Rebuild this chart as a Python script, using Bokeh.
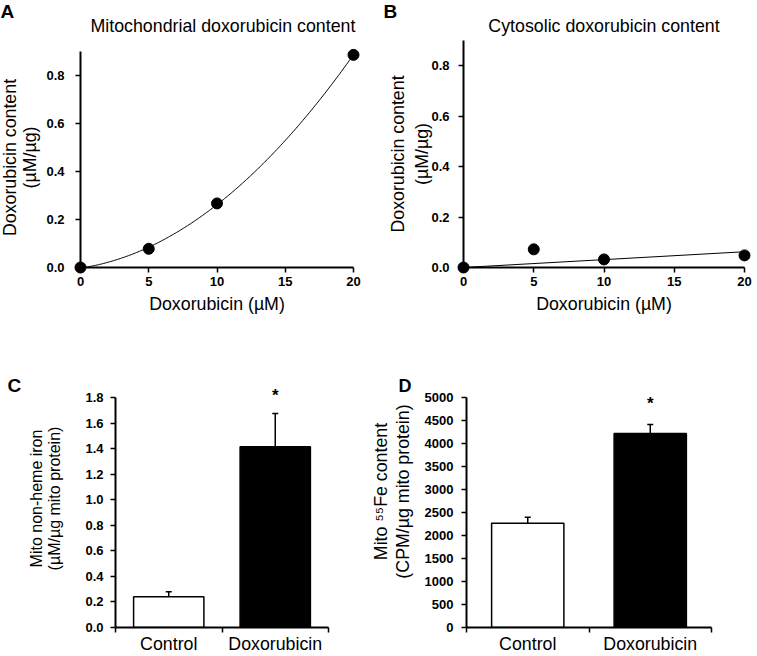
import numpy as np
from bokeh.plotting import figure
from bokeh.layouts import row, column
from bokeh.models import FixedTicker, NumeralTickFormatter, Range1d
from bokeh.embed import file_html
from bokeh.resources import INLINE
from bokeh.core.properties import value

FONT = "Liberation Sans"

# ---- data ----
dose = [0, 5, 10, 20]
mito_content = [0.0, 0.078, 0.267, 0.886]
cyto_content = [0.0, 0.072, 0.032, 0.048]
dose_ticks = [0, 5, 10, 15, 20]
content_ticks = [0.0, 0.2, 0.4, 0.6, 0.8]
content_max = 0.9

groups = ["Control", "Doxorubicin"]
iron_mean = [0.24, 1.415]
iron_err = [0.04, 0.26]
iron_ticks = [0.0, 0.2, 0.4, 0.6, 0.8, 1.0, 1.2, 1.4, 1.6, 1.8]
fe55_mean = [2265, 4220]
fe55_err = [130, 195]
fe55_ticks = [0, 500, 1000, 1500, 2000, 2500, 3000, 3500, 4000, 4500, 5000]


def base_style(p):
    p.outline_line_color = None
    p.xgrid.visible = False
    p.ygrid.visible = False
    p.background_fill_color = "white"
    p.border_fill_color = "white"
    for ax in p.axis:
        ax.axis_line_color = "black"
        ax.axis_line_width = 2
        ax.major_tick_line_color = "black"
        ax.major_tick_line_width = 1.5
        ax.major_tick_in = 0
        ax.major_tick_out = 5
        ax.minor_tick_line_color = None
        ax.major_label_text_font = FONT
        ax.major_label_text_font_style = "bold"
        ax.major_label_text_font_size = "13px"
        ax.major_label_text_color = "black"
        ax.axis_label_text_font = FONT
        ax.axis_label_text_font_style = "normal"
        ax.axis_label_text_font_size = "17.8px"
        ax.axis_label_text_color = "black"


def corner_text(p, txt, xo, yo, size):
    """Panel letter, anchored at the frame's top-left corner, offset in pixels."""
    p.text(x=[p.x_range.start], y=[p.y_range.end], text=[txt], text_font=value(FONT),
           text_font_style="bold", text_font_size=size, text_color="black",
           text_align="left", text_baseline="alphabetic",
           x_offset=xo, y_offset=yo, level="overlay")


def ylabel(p, lines, offsets, size, ymid, yo=0):
    """Rotated y-axis label lines, anchored at the middle of the y axis."""
    for txt, xo in zip(lines, offsets):
        p.text(x=[p.x_range.start], y=[ymid], text=[txt], text_font=value(FONT),
               text_font_style="normal", text_font_size=size, text_color="black",
               text_align="center", text_baseline="alphabetic", angle=np.pi / 2,
               x_offset=xo, y_offset=yo, level="overlay")


def line_panel(title, ydata, fit, width, height, bl, br, bt, bb, y_end,
               tick_standoff, title_standoff):
    p = figure(width=width, height=height, x_range=Range1d(0, 20), y_range=Range1d(0, y_end),
               output_backend="svg", toolbar_location=None,
               min_border_left=bl, min_border_right=br, min_border_top=bt, min_border_bottom=bb)
    base_style(p)
    p.title.text = title
    p.title.align = "center"
    p.title.text_font = FONT
    p.title.text_font_style = "normal"
    p.title.text_font_size = "17.8px"
    p.title.text_color = "black"
    p.title.standoff = title_standoff
    p.xaxis.ticker = FixedTicker(ticks=dose_ticks)
    p.yaxis.ticker = FixedTicker(ticks=content_ticks)
    p.yaxis.formatter = NumeralTickFormatter(format="0.0")
    p.yaxis.bounds = (0, content_max)
    p.xaxis.formatter = NumeralTickFormatter(format="0")
    p.xaxis.axis_label = "Doxorubicin (\u00b5M)"
    p.yaxis.major_label_standoff = tick_standoff
    p.xaxis.major_label_standoff = 4
    p.xaxis.axis_label_standoff = 5
    if fit == "quad":
        coef = np.polyfit(dose, ydata, 2)
        xs = np.linspace(min(dose), max(dose), 200)
        p.line(xs, np.polyval(coef, xs), line_color="black", line_width=1)
    else:
        d = np.array(dose, dtype=float)
        yv = np.array(ydata, dtype=float)
        k = float((d * yv).sum() / (d * d).sum())
        xs = np.array([min(dose), max(dose)], dtype=float)
        p.line(xs, k * xs, line_color="black", line_width=1)
    p.scatter(dose, ydata, size=11, fill_color="black", line_color="black", level="overlay")
    return p


# Row 1 frames share top 40 / bottom 267 (figures in a row are aligned).
# Panel A's axis only reaches 0.9 at y=51, so its range extends above.
ROW1_TOP, ROW1_BOTTOM, A_AXIS_TOP = 40, 267, 51
a_end = content_max * (ROW1_BOTTOM - ROW1_TOP) / (ROW1_BOTTOM - A_AXIS_TOP)

pA = line_panel("Mitochondrial doxorubicin content", mito_content, "quad",
                380, 330, 80, 27, ROW1_TOP, 330 - ROW1_BOTTOM, a_end, 11, 9)
pA.title.align = "left"
pA.title.offset = 10
ylabel(pA, ["Doxorubicin content", "(\u00b5M/\u00b5g)"], [-71, -51], "17.8px", content_max / 2, yo=-2)
corner_text(pA, "A", -80, -29, "19px")

pB = line_panel("Cytosolic doxorubicin content", cyto_content, "lin",
                377, 330, 83, 13, ROW1_TOP, 330 - ROW1_BOTTOM, content_max, 9, 10)
ylabel(pB, ["Doxorubicin content", "(\u00b5M/\u00b5g)"], [-66, -42], "17.8px", content_max / 2)
corner_text(pB, "B", -80, -29, "19px")


def bar_panel(means, errs, ticks, fmt, width, height, bl, br, bt, bb,
              tick_standoff, cat_standoff, bar_w, star_off):
    n = len(groups)
    p = figure(width=width, height=height, x_range=Range1d(0, n),
               y_range=Range1d(ticks[0], ticks[-1]),
               output_backend="svg", toolbar_location=None,
               min_border_left=bl, min_border_right=br, min_border_top=bt, min_border_bottom=bb)
    base_style(p)
    xs = [i + 0.5 for i in range(n)]
    p.yaxis.ticker = FixedTicker(ticks=ticks)
    p.yaxis.formatter = NumeralTickFormatter(format=fmt)
    p.yaxis.major_label_standoff = tick_standoff
    p.xaxis.ticker = FixedTicker(ticks=xs, minor_ticks=list(range(n + 1)))
    p.xaxis.major_label_overrides = {x: g for x, g in zip(xs, groups)}
    p.xaxis.major_tick_out = 0
    p.xaxis.major_tick_line_color = None
    p.xaxis.minor_tick_line_color = "black"
    p.xaxis.minor_tick_line_width = 1.5
    p.xaxis.minor_tick_in = 0
    p.xaxis.minor_tick_out = 5
    p.xaxis.major_label_text_font_style = "normal"
    p.xaxis.major_label_text_font_size = "17.8px"
    p.xaxis.major_label_standoff = cat_standoff
    tops = [m + e for m, e in zip(means, errs)]
    p.segment(x0=xs, y0=means, x1=xs, y1=tops, line_color="black", line_width=1.5)
    p.scatter(xs, tops, marker="dash", size=6, line_color="black", line_width=1.5)
    p.vbar(x=xs, top=means, bottom=ticks[0], width=bar_w, fill_color=["white", "black"],
           line_color="black", line_width=1.5)
    p.text(x=[xs[1]], y=[tops[1]], text=["*"], text_font=value(FONT), text_font_style="bold",
           text_font_size="17px", text_align="center", text_baseline="alphabetic",
           y_offset=star_off, text_color="black", level="overlay")
    return p


# Row 2 frames share top 397 / bottom 628 (figure origin y 330, height 326)
pC = bar_panel(iron_mean, iron_err, iron_ticks, "0.0",
               362, 326, 115, 34, 67, 28, 7, 1, 0.66, -18)
ylabel(pC, ["Mito non-heme iron", "(\u00b5M/\u00b5g mito protein)"], [-79, -61], "16px",
       iron_ticks[-1] / 2, yo=-14)
corner_text(pC, "C", -108, -12, "19px")

pD = bar_panel(fe55_mean, fe55_err, fe55_ticks, "0",
               395, 326, 104, 46, 67, 28, 8, 1, 0.59, -21)
ylabel(pD, ["Mito \u2075\u2075Fe content", "(CPM/\u00b5g mito protein)"], [-86, -64], "17.8px",
       fe55_ticks[-1] / 2, yo=-21)
corner_text(pD, "D", -68, -12, "18px")

layout = column(row(pA, pB), row(pC, pD))
open("out.html", "w").write(file_html(layout, INLINE))
